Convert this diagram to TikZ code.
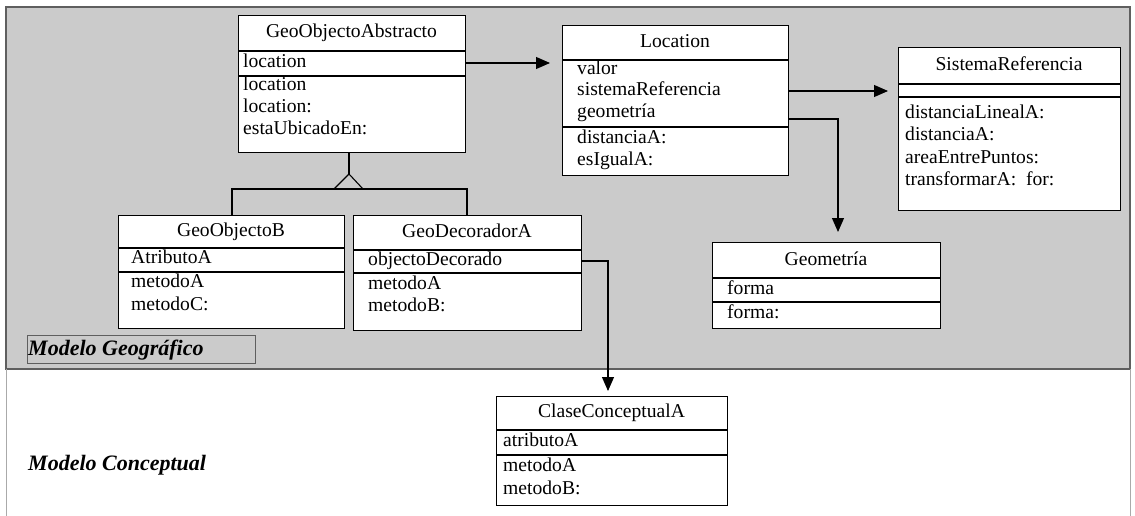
\documentclass[tikz,border=0pt]{standalone}
\usepackage{fontspec}
\setmainfont{Liberation Serif}
\usetikzlibrary{arrows.meta}
\definecolor{panel}{RGB}{203,203,203}
\definecolor{framecol}{RGB}{95,95,95}
\definecolor{lightframe}{RGB}{170,170,170}
\begin{document}
\begin{tikzpicture}[x=1pt,y=-1pt,
  cls/.style={draw=black, line width=1.2pt, fill=white, rectangle,
    anchor=north west, inner sep=0pt},
  item/.style={anchor=west, inner sep=0pt, font=\fontsize{19.6}{21}\selectfont,
    text height=13pt, text depth=4pt},
  ttl/.style={item, anchor=center},
  sep/.style={line width=1.1pt},
  link/.style={line width=1.1pt},
  assoc/.style={line width=1.1pt, -{Triangle[length=14pt,width=12pt]}},
  label/.style={anchor=west, inner sep=0pt,
    font=\fontsize{22}{24}\selectfont\bfseries\itshape}]
\useasboundingbox (0,0) rectangle (1135,516);
\fill[white] (0,0) rectangle (1135,516);

% two layers: geographic model (grey) above, conceptual model (white) below
\fill[panel] (6,7) rectangle (1130,369);
\draw[framecol, line width=1.2pt] (6,7) -- (1130,7) -- (1130,369) -- (6,369) -- cycle;
\draw[lightframe, line width=1pt] (6,369) -- (6,516);
\draw[lightframe, line width=1pt] (1130,369) -- (1130,516);

% ---------- GeoObjectoAbstracto ----------
\node[cls, minimum width=227pt, minimum height=137pt] (goa) at (238,15) {};
\draw[sep] (238,51) -- (465,51);
\draw[sep] (238,76) -- (465,76);
\node[ttl] (goa-t) at (351.5,33) {GeoObjectoAbstracto};
\node[item] (goa-a1) at (243,63) {location};
\node[item] (goa-m1) at (243,86) {location};
\node[item] (goa-m2) at (243,108) {location:};
\node[item] (goa-m3) at (243,130) {estaUbicadoEn:};

% ---------- Location ----------
\node[cls, minimum width=226pt, minimum height=150pt] (loc) at (562,25) {};
\draw[sep] (562,60) -- (788,60);
\draw[sep] (562,127) -- (788,127);
\node[ttl] (loc-t) at (675,43) {Location};
\node[item] (loc-a1) at (577,70) {valor};
\node[item] (loc-a2) at (577,91) {sistemaReferencia};
\node[item] (loc-a3) at (577,113) {geometría};
\node[item] (loc-m1) at (577,139) {distanciaA:};
\node[item] (loc-m2) at (577,161) {esIgualA:};

% ---------- SistemaReferencia ----------
\node[cls, minimum width=222pt, minimum height=163pt] (sis) at (898,47) {};
\draw[sep] (898,84) -- (1120,84);
\draw[sep] (898,97) -- (1120,97);
\node[ttl] (sis-t) at (1009,66) {SistemaReferencia};
\node[item] (sis-m1) at (905,114) {distanciaLinealA:};
\node[item] (sis-m2) at (905,136) {distanciaA:};
\node[item] (sis-m3) at (905,159) {areaEntrePuntos:};
\node[item] (sis-m4) at (905,181) {transformarA:\ \ for:};

% ---------- GeoObjectoB ----------
\node[cls, minimum width=226pt, minimum height=113pt] (gob) at (118,215) {};
\draw[sep] (118,248) -- (344,248);
\draw[sep] (118,272) -- (344,272);
\node[ttl] (gob-t) at (231,232) {GeoObjectoB};
\node[item] (gob-a1) at (131,259) {AtributoA};
\node[item] (gob-m1) at (131,283) {metodoA};
\node[item] (gob-m2) at (131,306) {metodoC:};

% ---------- GeoDecoradorA ----------
\node[cls, minimum width=228pt, minimum height=115pt] (gda) at (353,215) {};
\draw[sep] (353,250) -- (581,250);
\draw[sep] (353,273) -- (581,273);
\node[ttl] (gda-t) at (467,233) {GeoDecoradorA};
\node[item] (gda-a1) at (368,261) {objectoDecorado};
\node[item] (gda-m1) at (368,285) {metodoA};
\node[item] (gda-m2) at (368,307) {metodoB:};

% ---------- Geometría ----------
\node[cls, minimum width=228pt, minimum height=86pt] (geo) at (712,242) {};
\draw[sep] (712,278) -- (940,278);
\draw[sep] (712,302) -- (940,302);
\node[ttl] (geo-t) at (826,261) {Geometría};
\node[item] (geo-a1) at (727,290) {forma};
\node[item] (geo-m1) at (727,314) {forma:};

% ---------- ClaseConceptualA ----------
\node[cls, minimum width=231pt, minimum height=109pt] (cca) at (496,396) {};
\draw[sep] (496,430) -- (727,430);
\draw[sep] (496,455) -- (727,455);
\node[ttl] (cca-t) at (611.5,413) {ClaseConceptualA};
\node[item] (cca-a1) at (503,442) {atributoA};
\node[item] (cca-m1) at (503,467) {metodoA};
\node[item] (cca-m2) at (503,490) {metodoB:};

% ---------- layer labels ----------
\node[draw=framecol, line width=0.8pt, anchor=north west, minimum width=228pt,
  minimum height=28pt, inner sep=0pt] (geoframe) at (27,335) {};
\node[label] (geolabel) at (28,350) {Modelo Geográfico};
\node[label] (conlabel) at (28,465) {Modelo Conceptual};

% ---------- associations ----------
\draw[assoc, shorten >=12pt] (goa.east |- goa-a1) -- (loc.west |- goa-a1);
\draw[assoc, shorten >=10pt] (loc.east |- loc-a2) -- (sis.west |- loc-a2);
\coordinate (geo-in) at (838,232);
\draw[assoc] (loc.east |- 0,119) -| (geo-in);
\coordinate (cca-in) at (608,391);
\draw[assoc] (gda.east |- gda-a1) -| (cca-in);

% ---------- generalization ----------
\coordinate (gen-tip) at (349,174);
\coordinate (gen-bar) at (349,189);
\draw[link] (goa.south -| gen-tip) -- (gen-tip);
\draw[link] (gen-tip) -- (363,189) -- (334,189) -- cycle;
\draw[link] (gob.north -| 232,0) |- (gen-bar) -| (gda.north -| 467,0);
\end{tikzpicture}
\end{document}
